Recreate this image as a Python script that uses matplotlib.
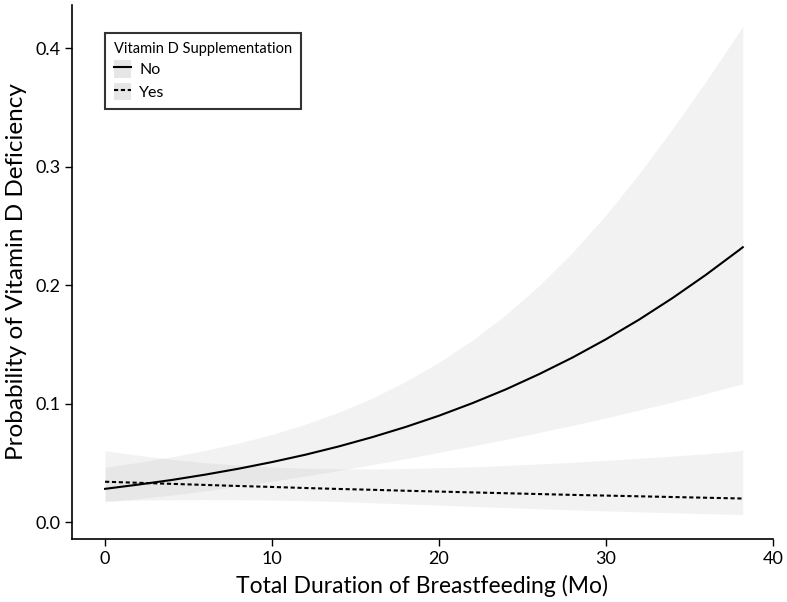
import numpy as np
import matplotlib
matplotlib.use("Agg")
import matplotlib.pyplot as plt
from matplotlib.patches import Patch
from matplotlib.lines import Line2D

# months of breastfeeding (x) and predicted probabilities
months = [0, 2, 4, 6, 8, 10, 12, 14, 16, 18, 20, 22, 24, 26, 28, 30, 32, 34, 36, 38, 38.2]

no_fit = [0.0280, 0.0316, 0.0355, 0.0400, 0.0450, 0.0506, 0.0568, 0.0638, 0.0716, 0.0802, 0.0897,
          0.1003, 0.1119, 0.1248, 0.1388, 0.1542, 0.1709, 0.1891, 0.2087, 0.2297, 0.2319]
no_lo = [0.0169, 0.0197, 0.0228, 0.0263, 0.0302, 0.0344, 0.0388, 0.0435, 0.0484, 0.0535, 0.0588,
         0.0642, 0.0698, 0.0756, 0.0816, 0.0879, 0.0945, 0.1013, 0.1085, 0.1160, 0.1168]
no_hi = [0.0462, 0.0503, 0.0550, 0.0604, 0.0666, 0.0739, 0.0825, 0.0926, 0.1045, 0.1185, 0.1347,
         0.1534, 0.1748, 0.1995, 0.2275, 0.2590, 0.2940, 0.3320, 0.3720, 0.4140, 0.4180]

yes_fit = [0.0340, 0.0331, 0.0322, 0.0313, 0.0304, 0.0296, 0.0287, 0.0279, 0.0272, 0.0264, 0.0257,
           0.0250, 0.0243, 0.0236, 0.0229, 0.0223, 0.0217, 0.0211, 0.0205, 0.0199, 0.0198]
yes_lo = [0.0180, 0.0185, 0.0188, 0.0189, 0.0188, 0.0185, 0.0180, 0.0173, 0.0163, 0.0153, 0.0143,
          0.0132, 0.0122, 0.0112, 0.0103, 0.0094, 0.0086, 0.0078, 0.0071, 0.0065, 0.0064]
yes_hi = [0.0602, 0.0563, 0.0529, 0.0502, 0.0480, 0.0464, 0.0454, 0.0449, 0.0448, 0.0451, 0.0458,
          0.0466, 0.0477, 0.0490, 0.0504, 0.0520, 0.0538, 0.0556, 0.0576, 0.0600, 0.0610]

x_ticks = [0, 10, 20, 30, 40]
y_ticks = [0.0, 0.1, 0.2, 0.3, 0.4]
y_tick_labels = ["0.0", "0.1", "0.2", "0.3", "0.4"]

plt.rcParams["font.family"] = ["Lato", "DejaVu Sans"]

fig = plt.figure(figsize=(7.87, 6.02), dpi=100)
ax = fig.add_axes([0.0915, 0.1047, 0.8905, 0.887])

# confidence bands
ax.fill_between(months, no_lo, no_hi, color="#bfbfbf", alpha=0.2, lw=0)
ax.fill_between(months, yes_lo, yes_hi, color="#bfbfbf", alpha=0.2, lw=0)

dash = (0, (2, 1.3))
ax.plot(months, no_fit, color="black", lw=1.5)
ax.plot(months, yes_fit, color="black", lw=1.5, ls=dash)

ax.set_xlim(-1.98, 40)
ax.set_ylim(-0.0143, 0.4363)
ax.set_xticks(x_ticks)
ax.set_yticks(y_ticks)
ax.set_yticklabels(y_tick_labels)
for s in ["top", "right"]:
    ax.spines[s].set_visible(False)
for s in ["left", "bottom"]:
    ax.spines[s].set_linewidth(1.2)
ax.tick_params(labelsize=13, length=5, width=1, colors="black")
ax.set_xlabel("Total Duration of Breastfeeding (Mo)", fontsize=16.5, labelpad=6)
ax.set_ylabel("Probability of Vitamin D Deficiency", fontsize=17.5, labelpad=6)

handles = [
    (Patch(facecolor="#e6e6e6", edgecolor="none"), Line2D([], [], color="black", lw=1.5)),
    (Patch(facecolor="#e6e6e6", edgecolor="none"), Line2D([], [], color="black", lw=1.5, ls=dash)),
]
leg = ax.legend(handles, ["No", "Yes"], title="Vitamin D Supplementation", loc="upper left",
                bbox_to_anchor=(0.047, 0.948), borderaxespad=0, fontsize=11.5, title_fontsize=10.5,
                fancybox=False, handlelength=1.1, handleheight=1.3, handletextpad=0.5,
                borderpad=0.55, labelspacing=0.3)
leg.get_frame().set_edgecolor("black")
leg.get_frame().set_linewidth(1.5)
leg._legend_box.align = "left"

fig.savefig("out.png")
